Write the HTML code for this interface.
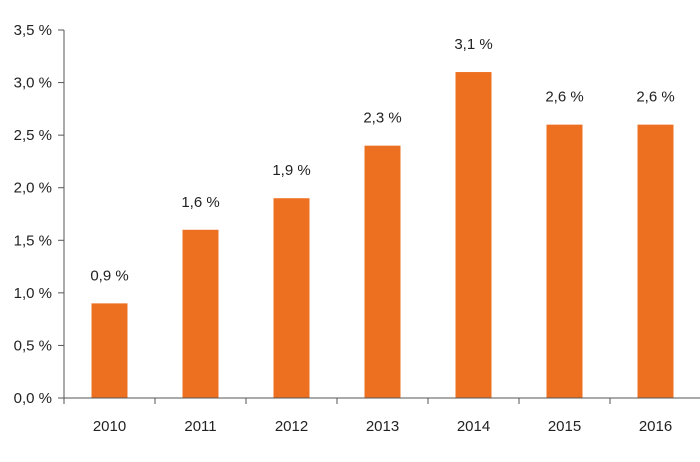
<!DOCTYPE html>
<html><head><meta charset="utf-8"><style>
html,body{margin:0;padding:0;background:#fff;}
svg text{font-family:"Liberation Sans",sans-serif;fill:#222;font-size:15px;}
</style></head><body>
<svg id="chart" width="700" height="457" xmlns="http://www.w3.org/2000/svg"></svg>
<script>
const categories=["2010","2011","2012","2013","2014","2015","2016"];
const values=[0.9,1.6,1.9,2.4,3.1,2.6,2.6];
const valueLabels=["0,9 %","1,6 %","1,9 %","2,3 %","3,1 %","2,6 %","2,6 %"];
const yTicks=[0,0.5,1,1.5,2,2.5,3,3.5];
const yTickLabels=["0,0 %","0,5 %","1,0 %","1,5 %","2,0 %","2,5 %","3,0 %","3,5 %"];
const svg=document.getElementById('chart');
const NS="http://www.w3.org/2000/svg";
const x0=64,x1=701,yBase=398,yTop=30,yMax=3.5;
const step=(x1-x0)/categories.length,bw=36;
function y(v){return yBase-(v/yMax)*(yBase-yTop);}
function xc(i){return x0+step*(i+0.5);}
function mk(t,a){const e=document.createElementNS(NS,t);for(const k in a)e.setAttribute(k,a[k]);svg.appendChild(e);return e;}
yTicks.forEach((v,i)=>{
 const t=mk('line',{x1:58,x2:x0,y1:y(v),y2:y(v),stroke:'#555','stroke-width':1});
 
 
 const l=mk('text',{x:52,y:y(v)+5,'text-anchor':'end'});l.textContent=yTickLabels[i];
 
 
});
values.forEach((v,i)=>{
 const b=mk('rect',{x:xc(i)-bw/2,y:y(v),width:bw,height:yBase-y(v),fill:'#ED7020'});
 
 
 const l=mk('text',{x:xc(i),y:y(v)-23,'text-anchor':'middle'});l.textContent=valueLabels[i];
 
 
 const c=mk('text',{x:xc(i),y:431,'text-anchor':'middle'});c.textContent=categories[i];
 
 
});
for(let i=0;i<=categories.length;i++){
 const t=mk('line',{x1:x0+step*i,x2:x0+step*i,y1:yBase,y2:404,stroke:'#555','stroke-width':1});
 
 
}
const ya=mk('line',{x1:x0,x2:x0,y1:yTop,y2:yBase,stroke:'#555','stroke-width':1});


const xa=mk('line',{x1:x0,x2:x1,y1:yBase,y2:yBase,stroke:'#555','stroke-width':1});


</script>
</body></html>
